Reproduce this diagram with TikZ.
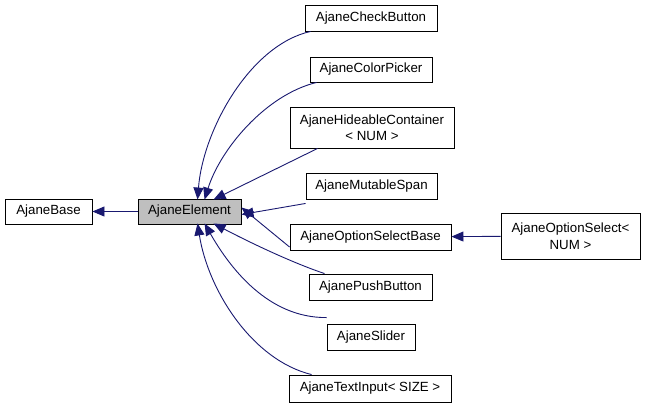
\documentclass[tikz,border=0pt]{standalone}
\usepackage{fontspec}
\setmainfont{Liberation Sans}
\usetikzlibrary{arrows.meta}
\definecolor{edgeblue}{RGB}{25,25,112}

\begin{document}
\begin{tikzpicture}[
  x=1pt, y=-1pt,
  box/.style={draw, line width=0.9pt, align=center, inner sep=0pt,
    font=\fontsize{13.3}{16.5}\selectfont},
  arr/.style={-{Triangle[length=12pt,width=10pt]}, edgeblue, line width=0.9pt}
]
\useasboundingbox (0,0) rectangle (645,408);
\node[box, minimum width=87pt, minimum height=25pt] (base) at (48.5,211.5) {AjaneBase};
\node[box, fill=black!25, minimum width=103pt, minimum height=25pt] (elem) at (189.5,211.5) {AjaneElement};
\node[box, minimum width=132pt, minimum height=26pt] (check) at (371,18) {AjaneCheckButton};
\node[box, minimum width=122pt, minimum height=25pt] (color) at (371,69.5) {AjaneColorPicker};
\node[box, minimum width=164pt, minimum height=41pt] (hide) at (372,127.5) {AjaneHideableContainer\\< NUM >};
\node[box, minimum width=131pt, minimum height=26pt] (mutable) at (371.5,186) {AjaneMutableSpan};
\node[box, minimum width=161pt, minimum height=26pt] (optbase) at (370.5,237) {AjaneOptionSelectBase};
\node[box, minimum width=123pt, minimum height=26pt] (push) at (370.5,287) {AjanePushButton};
\node[box, minimum width=88pt, minimum height=26pt] (slider) at (371,337) {AjaneSlider};
\node[box, minimum width=162pt, minimum height=27pt] (textin) at (370,388.5) {AjaneTextInput< SIZE >};
\node[box, minimum width=139pt, minimum height=46pt] (optsel) at (570.5,236) {AjaneOptionSelect<\\NUM >};
% inheritance edges
\draw[arr] (elem) -- (base);
\draw[arr] ([xshift=6pt]check.south west) .. controls (250,45) and (203,130) .. ([xshift=60pt,yshift=-1pt]elem.north west);
\draw[arr] ([xshift=7pt]color.south west) .. controls (265,95) and (220,150) .. ([xshift=67pt,yshift=-1pt]elem.north west);
\draw[arr] ([xshift=28pt]hide.south west) -- ([xshift=76pt,yshift=-1pt]elem.north west);
\draw[arr] ([yshift=-4pt]mutable.south west) -- ([yshift=-3pt]elem.east);
\draw[arr] ([yshift=-10pt]optbase.west) -- ([yshift=4pt]elem.east);
\draw[arr] ([xshift=16pt]push.north west) .. controls (290,262) and (245,240) .. ([xshift=76pt,yshift=1pt]elem.south west);
\draw[arr] ([yshift=6pt]slider.north west) .. controls (268,318) and (230,268) .. ([xshift=67pt,yshift=1pt]elem.south west);
\draw[arr] ([xshift=23pt]textin.north west) .. controls (252,360) and (208,290) .. ([xshift=60pt,yshift=1pt]elem.south west);
\draw[arr] (optsel) -- (optbase);
\end{tikzpicture}
\end{document}
